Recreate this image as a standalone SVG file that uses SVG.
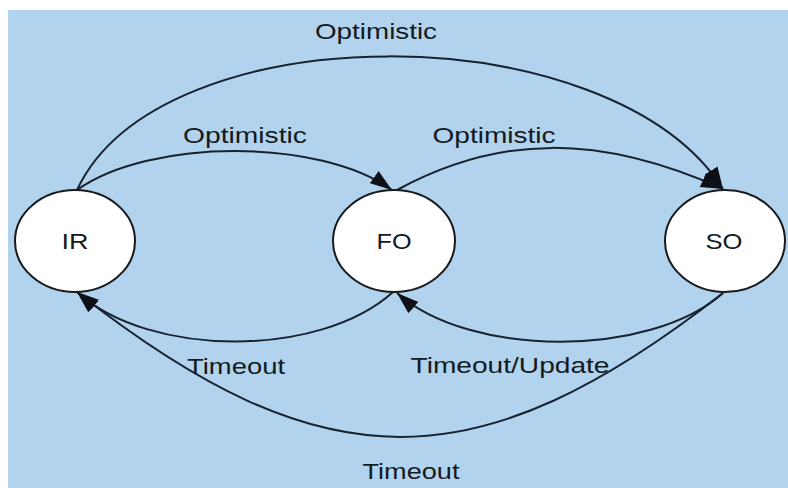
<svg xmlns="http://www.w3.org/2000/svg" width="788" height="488" viewBox="0 0 788 488">
<style>
.edge{fill:none;stroke:#18222e;stroke-width:2}
.node{fill:#ffffff;stroke:#1a1a1a;stroke-width:2}
.lbl{font-family:"Liberation Sans",Arial,sans-serif;font-size:22px;fill:#151a20;text-anchor:middle}
</style>
<defs>
<marker id="arr" markerUnits="userSpaceOnUse" markerWidth="24" markerHeight="16" refX="22" refY="7.5" orient="auto">
<path d="M0,0 L22,7.5 L0,15 z" fill="#0d1117"/>
</marker>
</defs>
<rect x="0" y="0" width="788" height="488" fill="#ffffff"/>
<rect x="8" y="10" width="780" height="478" fill="#b2d3ee"/>
<g id="connectors">
<path class="edge" d="M77,190 C160,12 610,12 723,189" marker-end="url(#arr)"/>
<path class="edge" d="M77,190 C150,138 320,138 392,190" marker-end="url(#arr)"/>
<path class="edge" d="M397,190 C500,134 600,134 723,189" marker-end="url(#arr)"/>
<path class="edge" d="M393,292 C320,358 150,358 77,292" marker-end="url(#arr)"/>
<path class="edge" d="M723,293 C650,358 470,358 397,293" marker-end="url(#arr)"/>
<path class="edge" d="M723,293 C477,485 323,485 77,292" marker-end="url(#arr)"/>
</g>
<g id="edge-labels">
<text class="lbl" x="376" y="39" textLength="122" lengthAdjust="spacingAndGlyphs">Optimistic</text>
<text class="lbl" x="245" y="143" textLength="124" lengthAdjust="spacingAndGlyphs">Optimistic</text>
<text class="lbl" x="494" y="143" textLength="123" lengthAdjust="spacingAndGlyphs">Optimistic</text>
<text class="lbl" x="236" y="374" textLength="98" lengthAdjust="spacingAndGlyphs">Timeout</text>
<text class="lbl" x="510" y="373" textLength="199" lengthAdjust="spacingAndGlyphs">Timeout/Update</text>
<text class="lbl" x="411" y="479" textLength="97" lengthAdjust="spacingAndGlyphs">Timeout</text>
</g>
<g id="node-IR">
<ellipse class="node" cx="75" cy="241" rx="60" ry="51"/>
<text class="lbl" x="75" y="249" textLength="27" lengthAdjust="spacingAndGlyphs">IR</text>
</g>
<g id="node-FO">
<ellipse class="node" cx="394" cy="241" rx="61" ry="51"/>
<text class="lbl" x="394" y="249" textLength="35" lengthAdjust="spacingAndGlyphs">FO</text>
</g>
<g id="node-SO">
<ellipse class="node" cx="725" cy="241" rx="60" ry="51"/>
<text class="lbl" x="724" y="249" textLength="37" lengthAdjust="spacingAndGlyphs">SO</text>
</g>
</svg>
